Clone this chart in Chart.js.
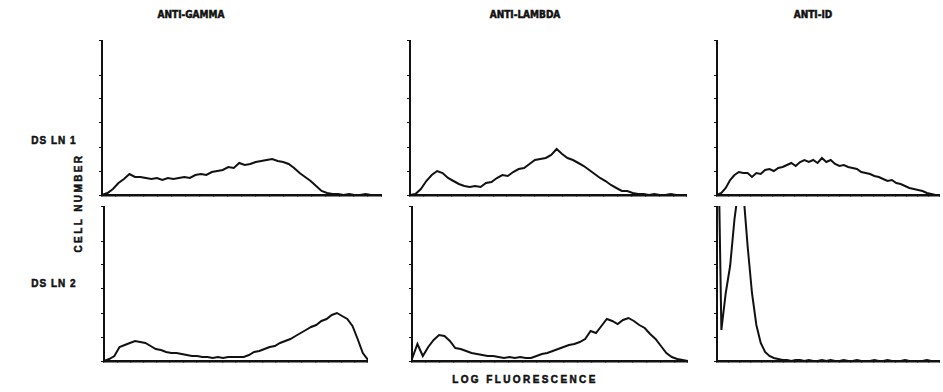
<!DOCTYPE html>
<html><head><meta charset="utf-8">
<script src="https://cdn.jsdelivr.net/npm/chart.js@4.4.1/dist/chart.umd.min.js"></script>
<style>
html,body{margin:0;padding:0;background:#fff;}
body{width:943px;height:392px;position:relative;overflow:hidden;color:#111;
 font-family:"Liberation Sans Narrow","DejaVu Sans Condensed","Liberation Sans",Arial,sans-serif;font-weight:bold;}
.lbl{position:absolute;white-space:nowrap;font-size:10px;line-height:10px;transform:translate(-50%,-50%);-webkit-text-stroke:0.5px #111;}
.wide{font-family:"Liberation Sans",Arial,sans-serif;letter-spacing:2.4px;}
.row{font-family:"Liberation Sans",Arial,sans-serif;letter-spacing:1px;}
.panel{position:absolute;}
.panel canvas{display:block;}
</style></head><body>
<script>
// Fluorescence channels (log scale, 256 channels)
const channels = [0,5,10,15,20,25,30,35,40,45,50,55,60,65,70,75,80,85,90,95,100,105,110,115,120,125,130,135,140,145,150,155,160,165,170,175,180,185,190,195,200,205,210,215,220,225,230,235,240,245,250,255];
const columnLabels = ["ANTI-GAMMA","ANTI-LAMBDA","ANTI-ID"];
const rowLabels = ["DS LN 1","DS LN 2"];
const yLabel = "CELL NUMBER";
const xLabel = "LOG FLUORESCENCE";
// Cell number per channel (relative units)
const gammaLN1  = [0,2,6,12,16,21,18,18,17,16,17,15,17,16,17,18,17,20,21,20,23,24,25,28,27,32,30,31,33,34,35,36,34,33,31,27,22,18,14,9,4,2,1,1,0,1,0,0,1,0,0,0];
const lambdaLN1 = [0,1,6,14,20,24,22,17,14,11,9,8,9,8,12,13,17,20,19,23,26,27,31,35,36,37,40,46,41,37,35,32,29,25,21,17,14,10,7,4,4,2,1,1,0,1,0,0,1,0,0,0];
const idLN1     = [0,2,7,15,20,23,22,22,18,22,21,25,26,24,27,28,30,32,29,33,35,33,35,32,37,33,35,31,29,30,28,27,26,23,22,21,19,18,16,14,15,12,11,9,7,6,5,4,2,1,0,0];
const gammaLN2  = [0,2,5,14,16,18,20,19,18,15,12,11,9,8,8,7,6,5,5,4,4,3,4,3,4,4,4,4,6,9,10,12,14,15,18,20,22,25,28,31,34,36,40,42,46,48,45,42,35,22,8,1];
const lambdaLN2 = [2,17,5,14,21,26,25,20,13,12,10,8,7,6,5,5,4,3,4,3,4,3,3,5,7,8,10,12,14,16,17,19,22,30,28,35,42,40,37,41,43,40,36,33,27,22,15,8,4,2,1,0];
const idLN2     = [300,31,68,95,142,175,170,115,68,36,18,9,5,3,2,1,1,0,1,1,0,1,0,0,1,0,1,0,0,1,0,0,1,0,0,0,1,0,0,1,0,0,0,1,0,0,0,0,1,0,0,0];
const yMax = 155;

// panel frames: [axisX, rightX, topY, baselineY]
const panels = [
  {vals: gammaLN1,  box:[102,382,40,195]},
  {vals: lambdaLN1, box:[410,687,40,195]},
  {vals: idLN1,     box:[717,940,40,195]},
  {vals: gammaLN2,  box:[104,368,206,361]},
  {vals: lambdaLN2, box:[412,688,206,361]},
  {vals: idLN2,     box:[717,940,206,361]}
];
const YT = 3, XT = 2;

function addLabel(text, x, y, cls, rot){
  const d = document.createElement('div');
  d.className = 'lbl' + (cls ? ' ' + cls : '');
  d.textContent = text;
  d.style.left = x + 'px'; d.style.top = y + 'px';
  if (rot) d.style.transform = 'translate(-50%,-50%) rotate(-90deg)';
  document.body.appendChild(d);
}

panels.forEach(p => {
  const [ax, rx, ty, by] = p.box;
  const div = document.createElement('div');
  div.className = 'panel';
  div.style.left = (ax - YT) + 'px';
  div.style.top = ty + 'px';
  div.style.width = (rx - ax + YT) + 'px';
  div.style.height = (by - ty + XT) + 'px';
  const cv = document.createElement('canvas');
  div.appendChild(cv);
  document.body.appendChild(div);
  new Chart(cv.getContext('2d'), {
    type: 'line',
    data: { datasets: [{
      data: channels.map((c, i) => ({x: c, y: p.vals[i]})),
      borderColor: '#111', borderWidth: 2, pointRadius: 0, tension: 0, fill: false, clip: 2
    }]},
    options: {
      responsive: true, maintainAspectRatio: false, animation: false, devicePixelRatio: 1,
      layout: {padding: 0},
      plugins: {legend: {display: false}, tooltip: {enabled: false}, title: {display: false}},
      scales: {
        x: {type: 'linear', min: 0, max: 255,
            ticks: {display: false, stepSize: 12.75},
            grid: {drawOnChartArea: false, drawTicks: true, tickLength: XT, color: '#111', lineWidth: 1.2},
            border: {display: true, color: '#111', width: 2.5}},
        y: {type: 'linear', min: 0, max: yMax,
            ticks: {display: false, stepSize: 24},
            grid: {drawOnChartArea: false, drawTicks: true, tickLength: YT, color: '#111', lineWidth: 1},
            border: {display: true, color: '#111', width: 2}}
      }
    }
  });
});

addLabel(columnLabels[0], 191, 15);
addLabel(columnLabels[1], 525, 15);
addLabel(columnLabels[2], 813, 15);
addLabel(rowLabels[0], 54, 141, 'row');
addLabel(rowLabels[1], 54, 284, 'row');
addLabel(yLabel, 79, 203, 'wide', true);
addLabel(xLabel, 525, 380, 'wide');
</script>
</body></html>
